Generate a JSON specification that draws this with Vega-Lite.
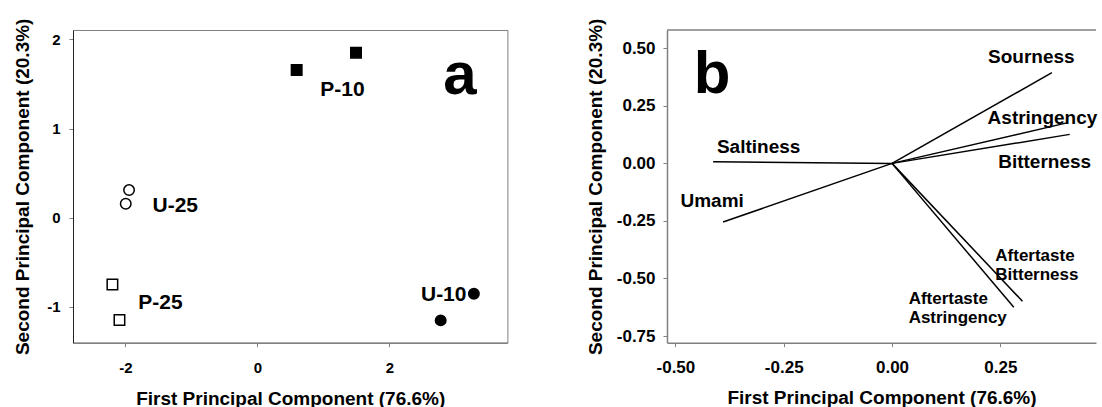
{
  "$schema": "https://vega.github.io/schema/vega-lite/v6.json",
  "padding": {"left": 13, "top": 17, "right": 0, "bottom": 0},
  "background": "white",
  "spacing": 78,
  "config": {
    "font": "Liberation Sans",
    "view": {"stroke": "#808080", "strokeWidth": 1},
    "axis": {
      "grid": false,
      "labelFont": "Liberation Sans",
      "titleFont": "Liberation Sans",
      "labelFontWeight": "bold",
      "titleFontWeight": "bold",
      "labelColor": "#000000",
      "titleColor": "#000000",
      "tickColor": "#808080",
      "tickSize": 4,
      "domainColor": "#808080",
      "domainWidth": 1.5
    },
    "text": {"font": "Liberation Sans", "fontWeight": "bold", "color": "#000000"}
  },
  "datasets": {
    "scores": [
      {"sample": "P-10", "pc1": 0.595, "pc2": 1.656},
      {"sample": "P-10", "pc1": 1.494, "pc2": 1.85},
      {"sample": "U-25", "pc1": -1.945, "pc2": 0.31},
      {"sample": "U-25", "pc1": -1.995, "pc2": 0.157},
      {"sample": "P-25", "pc1": -2.197, "pc2": -0.747},
      {"sample": "P-25", "pc1": -2.09, "pc2": -1.147},
      {"sample": "U-10", "pc1": 3.28, "pc2": -0.852},
      {"sample": "U-10", "pc1": 2.777, "pc2": -1.15}
    ],
    "scoreLabels": [
      {"label": "P-10", "pc1": 1.289, "pc2": 1.431},
      {"label": "U-25", "pc1": -1.245, "pc2": 0.137},
      {"label": "P-25", "pc1": -1.47, "pc2": -0.956},
      {"label": "U-10", "pc1": 2.823, "pc2": -0.863}
    ],
    "loadings": [
      {"attribute": "Sourness", "pc1": 0.369, "pc2": 0.394},
      {"attribute": "Astringency", "pc1": 0.406, "pc2": 0.177},
      {"attribute": "Bitterness", "pc1": 0.41, "pc2": 0.126},
      {"attribute": "Saltiness", "pc1": -0.413, "pc2": 0.007},
      {"attribute": "Umami", "pc1": -0.39, "pc2": -0.255},
      {"attribute": "Aftertaste Astringency", "pc1": 0.281, "pc2": -0.625},
      {"attribute": "Aftertaste Bitterness", "pc1": 0.301, "pc2": -0.599}
    ],
    "loadingLabels": [
      {"label": "Sourness", "pc1": 0.3215, "pc2": 0.4618},
      {"label": "Bitterness", "pc1": 0.3522, "pc2": 0.0056},
      {"label": "Saltiness", "pc1": -0.3079, "pc2": 0.0708},
      {"label": "Umami", "pc1": -0.4152, "pc2": -0.1642}
    ],
    "loadingLabelsLeft": [
      {"label": "Astringency", "pc1": 0.2206, "pc2": 0.199}
    ],
    "smallLabels": [
      {"label": "Aftertaste\nBitterness", "pc1": 0.2384, "pc2": -0.366},
      {"label": "Aftertaste\nAstringency", "pc1": 0.0383, "pc2": -0.554}
    ]
  },
  "hconcat": [
    {
      "width": 434.4,
      "height": 312.7,
      "layer": [
        {
          "data": {"name": "scores"},
          "mark": {"type": "point", "filled": true, "stroke": "#000000", "strokeWidth": 1.5, "size": 110, "opacity": 1},
          "encoding": {
            "x": {
              "field": "pc1", "type": "quantitative",
              "scale": {"domain": [-2.794, 3.788], "nice": false, "zero": false},
              "axis": {
                "values": [-2, 0, 2],
                "labelExpr": "datum.value < 0 ? '-' + format(-datum.value, 'd') : format(datum.value, 'd')",
                "title": "First Principal Component (76.6%)",
                "labelFontSize": 15, "titleFontSize": 19, "labelPadding": 14, "titlePadding": 14
              }
            },
            "y": {
              "field": "pc2", "type": "quantitative",
              "scale": {"domain": [-1.4, 2.104], "nice": false, "zero": false},
              "axis": {
                "values": [-1, 0, 1, 2],
                "labelExpr": "datum.value < 0 ? '-' + format(-datum.value, 'd') : format(datum.value, 'd')",
                "title": "Second Principal Component (20.3%)",
                "labelFontSize": 15, "titleFontSize": 19, "labelPadding": 9, "titlePadding": 14,
                "domainColor": "#222222", "domainWidth": 1
              }
            },
            "shape": {
              "field": "sample", "type": "nominal",
              "scale": {"domain": ["P-10", "U-10", "U-25", "P-25"], "range": ["square", "circle", "circle", "square"]},
              "legend": null
            },
            "fill": {
              "field": "sample", "type": "nominal",
              "scale": {"domain": ["P-10", "U-10", "U-25", "P-25"], "range": ["#000000", "#000000", "#ffffff", "#ffffff"]},
              "legend": null
            }
          }
        },
        {
          "data": {"name": "scoreLabels"},
          "mark": {"type": "text", "fontSize": 21, "align": "center", "baseline": "middle"},
          "encoding": {
            "x": {"field": "pc1", "type": "quantitative"},
            "y": {"field": "pc2", "type": "quantitative"},
            "text": {"field": "label", "type": "nominal"}
          }
        },
        {
          "data": {"values": [{"label": "a", "pc1": 2.817, "pc2": 1.389}]},
          "mark": {"type": "text", "fontSize": 60, "align": "left", "baseline": "alphabetic"},
          "encoding": {
            "x": {"field": "pc1", "type": "quantitative"},
            "y": {"field": "pc2", "type": "quantitative"},
            "text": {"field": "label", "type": "nominal"}
          }
        }
      ]
    },
    {
      "width": 429,
      "height": 312.7,
      "view": {"stroke": null},
      "layer": [
        {
          "data": {"name": "loadings"},
          "mark": {"type": "rule", "color": "#000000", "strokeWidth": 1.5},
          "encoding": {
            "x": {
              "field": "pc1", "type": "quantitative",
              "scale": {"domain": [-0.5194, 0.4707], "nice": false, "zero": false},
              "axis": {
                "values": [-0.5, -0.25, 0, 0.25],
                "labelExpr": "datum.value < 0 ? '-' + format(-datum.value, '.2f') : format(datum.value, '.2f')",
                "title": "First Principal Component (76.6%)",
                "labelFontSize": 17, "titleFontSize": 19, "labelPadding": 13, "titlePadding": 13
              }
            },
            "y": {
              "field": "pc2", "type": "quantitative",
              "scale": {"domain": [-0.779, 0.5795], "nice": false, "zero": false},
              "axis": {
                "values": [-0.75, -0.5, -0.25, 0, 0.25, 0.5],
                "labelExpr": "datum.value < 0 ? '-' + format(-datum.value, '.2f') : format(datum.value, '.2f')",
                "title": "Second Principal Component (20.3%)",
                "labelFontSize": 17, "titleFontSize": 19, "labelPadding": 8, "titlePadding": 11
              }
            },
            "x2": {"datum": 0},
            "y2": {"datum": 0}
          }
        },
        {
          "data": {"values": [{"pc2": 0.5795}]},
          "mark": {"type": "rule", "color": "#808080", "strokeWidth": 1.5},
          "encoding": {
            "y": {"field": "pc2", "type": "quantitative"}
          }
        },
        {
          "data": {"name": "loadingLabels"},
          "mark": {"type": "text", "fontSize": 19, "align": "center", "baseline": "middle"},
          "encoding": {
            "x": {"field": "pc1", "type": "quantitative"},
            "y": {"field": "pc2", "type": "quantitative"},
            "text": {"field": "label", "type": "nominal"}
          }
        },
        {
          "data": {"name": "loadingLabelsLeft"},
          "mark": {"type": "text", "fontSize": 19, "align": "left", "baseline": "middle"},
          "encoding": {
            "x": {"field": "pc1", "type": "quantitative"},
            "y": {"field": "pc2", "type": "quantitative"},
            "text": {"field": "label", "type": "nominal"}
          }
        },
        {
          "data": {"name": "smallLabels"},
          "mark": {"type": "text", "fontSize": 17, "align": "left", "baseline": "top", "lineBreak": "\n", "lineHeight": 19},
          "encoding": {
            "x": {"field": "pc1", "type": "quantitative"},
            "y": {"field": "pc2", "type": "quantitative"},
            "text": {"field": "label", "type": "nominal"}
          }
        },
        {
          "data": {"values": [{"label": "b", "pc1": -0.4579, "pc2": 0.3067}]},
          "mark": {"type": "text", "fontSize": 60, "align": "left", "baseline": "alphabetic"},
          "encoding": {
            "x": {"field": "pc1", "type": "quantitative"},
            "y": {"field": "pc2", "type": "quantitative"},
            "text": {"field": "label", "type": "nominal"}
          }
        }
      ]
    }
  ]
}
